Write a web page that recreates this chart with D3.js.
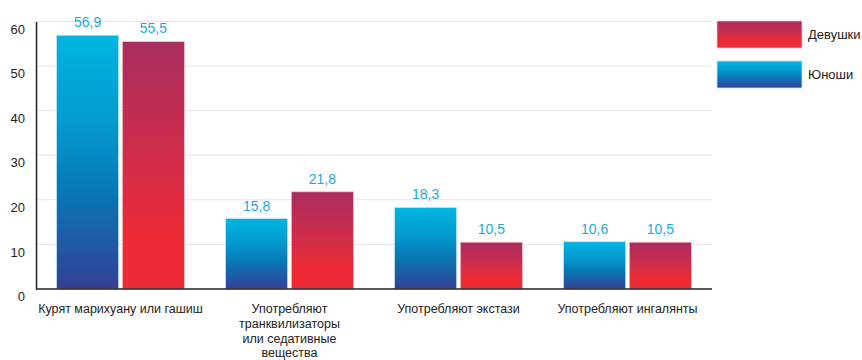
<!DOCTYPE html>
<html><head><meta charset="utf-8">
<script src="https://cdn.jsdelivr.net/npm/d3@7"></script>
<style>body{margin:0;background:#fff}svg{display:block;font-family:"Liberation Sans",Arial,sans-serif}</style>
</head><body><svg id="c" width="862" height="360"></svg>
<script>
const categories = [
  ["Курят марихуану или гашиш"],
  ["Употребляют", "транквилизаторы", "или седативные", "вещества"],
  ["Употребляют экстази"],
  ["Употребляют ингалянты"]
];
const seriesNames = ["Юноши", "Девушки"];
const boys = [56.9, 15.8, 18.3, 10.6];
const girls = [55.5, 21.8, 10.5, 10.5];
const yTicks = [0, 10, 20, 30, 40, 50, 60];

const svg = d3.select("#c");
const defs = svg.append("defs");
function grad(id, stops){
  const g = defs.append("linearGradient").attr("id", id).attr("x1",0).attr("y1",0).attr("x2",0).attr("y2",1);
  stops.forEach(s => g.append("stop").attr("offset", s[0]).attr("stop-color", s[1]));
}
grad("gBlue", [[0,"#00b5e1"],[0.35,"#0399cf"],[0.62,"#0877b4"],[1,"#353f96"]]);
grad("gRed", [[0,"#a92d60"],[0.5,"#d22c48"],[0.8,"#ee2a34"],[1,"#ee2a34"]]);

const x0 = 36, x1 = 712;
const y = d3.scaleLinear().domain([0, 60]).range([289, 21.4]);
const idx = categories.map((d,i)=>i);
const xb = d3.scaleBand().domain(idx).range([x0, x1]).paddingInner(0).paddingOuter(0);
const xs = d3.scaleBand().domain([0,1]).range([20.5, xb.bandwidth()-20.5]).paddingInner(0.055);

// gridlines
svg.append("g").selectAll("line").data(yTicks.filter(t=>t>0)).join("line")
  .attr("x1", x0).attr("x2", x1).attr("y1", d=>y(d)).attr("y2", d=>y(d))
  .attr("stroke", "#e3e3e3").attr("stroke-width", 1);

// y axis
const yAxis = d3.axisLeft(y).tickValues(yTicks).tickSize(0).tickPadding(11);
const ga = svg.append("g").attr("transform", `translate(${x0},0)`).call(yAxis);
ga.select(".domain").attr("stroke", "#222").attr("stroke-width", 1.5);
ga.selectAll("text").attr("font-size", 13).attr("fill", "#222").attr("dy", "0.9em")
  .attr("font-family", '"Liberation Sans",Arial,sans-serif');

// bars
const series = [boys, girls];
const fills = ["url(#gBlue)", "url(#gRed)"];
const strokes = ["#bfe9f7", "#f4c3cc"];
series.forEach((vals, si) => {
  const g = svg.append("g");
  g.selectAll("rect").data(vals).join("rect")
    .attr("x", (d,i)=>xb(i)+xs(si)).attr("width", xs.bandwidth())
    .attr("y", d=>y(d)).attr("height", d=>y(0)-y(d))
    .attr("fill", fills[si]).attr("stroke", strokes[si]).attr("stroke-width", 0.8);
  g.selectAll("text").data(vals).join("text")
    .attr("x", (d,i)=>xb(i)+xs(si)+xs.bandwidth()/2)
    .attr("y", d=>y(d)-8)
    .attr("text-anchor", "middle").attr("font-size", 14).attr("fill", "#1aa9df")
    .text(d=>d.toFixed(1).replace(".", ","));
});

// baseline
svg.append("line").attr("x1", x0).attr("x2", x1).attr("y1", y(0)).attr("y2", y(0))
  .attr("stroke", "#222").attr("stroke-width", 1.5);

// category labels
categories.forEach((lines, i) => {
  const t = svg.append("text").attr("text-anchor", "middle").attr("font-size", 12.5).attr("fill", "#222");
  lines.forEach((ln, j) => {
    t.append("tspan").attr("x", xb(i)+xb.bandwidth()/2).attr("y", 313 + j*14.8).text(ln);
  });
});

// legend
const legend = [["Девушки", "url(#gRed)", "#f4c3cc"], ["Юноши", "url(#gBlue)", "#bfe9f7"]];
legend.forEach((l, i) => {
  const yy = 21 + i*40;
  svg.append("rect").attr("x", 717).attr("y", yy).attr("width", 85).attr("height", 27)
    .attr("fill", l[1]).attr("stroke", l[2]).attr("stroke-width", 0.8);
  svg.append("text").attr("x", 808).attr("y", yy+18).attr("font-size", 13).attr("fill", "#222").text(l[0]);
});
</script></body></html>
